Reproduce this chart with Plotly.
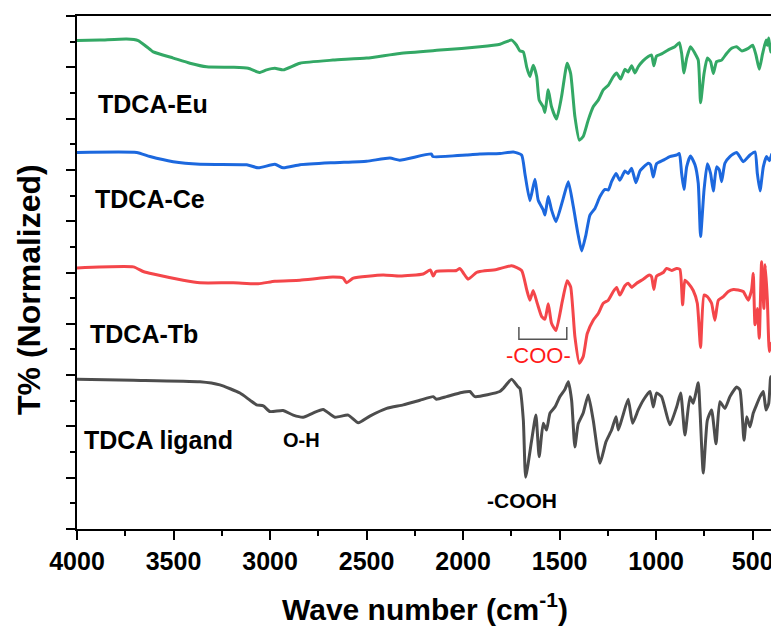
import plotly.graph_objects as go

# ---------------- data ----------------
eu_wn = [4000, 3881, 3743, 3683, 3639, 3605, 3501, 3415, 3329, 3191, 3113, 3056, 3018, 2975, 2932, 2845,
         2674, 2500, 2328, 2100, 1913, 1809, 1749, 1723, 1706, 1688, 1671, 1654, 1637, 1619, 1606, 1585,
         1576, 1559, 1542, 1516, 1490, 1461, 1443, 1421, 1398, 1378, 1352, 1326, 1300, 1274, 1248, 1222,
         1205, 1184, 1162, 1145, 1127, 1110, 1093, 1067, 1041, 1024, 1012, 998, 972, 937, 903, 880, 868,
         856, 842, 822, 799, 782, 770, 752, 735, 718, 704, 687, 661, 635, 609, 583, 557, 523, 500, 483,
         466, 449, 431, 424, 417, 407, 400]
eu_t = [9.52, 9.53, 9.55, 9.52, 9.40, 9.30, 9.18, 9.08, 9.01, 9.00, 8.98, 8.90, 8.95, 8.98, 8.95, 9.08,
        9.14, 9.18, 9.27, 9.34, 9.40, 9.45, 9.53, 9.43, 9.32, 9.30, 9.01, 8.82, 9.04, 8.82, 8.36, 8.23,
        8.12, 8.56, 8.23, 7.99, 8.43, 9.08, 8.88, 8.04, 7.58, 7.65, 7.97, 8.23, 8.36, 8.56, 8.65, 8.82,
        8.89, 8.77, 8.96, 8.91, 9.03, 8.89, 9.01, 9.13, 9.21, 9.24, 9.03, 9.22, 9.26, 9.34, 9.40, 9.48, 9.27,
        8.89, 9.18, 9.40, 9.27, 9.14, 8.31, 8.88, 9.18, 9.11, 8.88, 9.11, 9.14, 9.27, 9.37, 9.40, 9.32, 9.37, 9.43, 9.24,
        8.96, 9.26, 9.53, 9.43, 9.57, 9.30, 9.37]

ce_wn = [4000, 3691, 3622, 3502, 3363, 3121, 3061, 2975, 2932, 2845, 2674, 2500, 2379, 2328, 2164, 2157,
         1982, 1913, 1809, 1740, 1697, 1680, 1654, 1628, 1611, 1585, 1576, 1559, 1542, 1519, 1481, 1455,
         1429, 1404, 1386, 1364, 1343, 1317, 1291, 1265, 1248, 1231, 1208, 1188, 1162, 1145, 1127, 1105,
         1084, 1067, 1041, 1029, 1015, 998, 963, 929, 894, 880, 868, 856, 842, 822, 799, 782, 770, 752,
         735, 718, 704, 687, 673, 661, 644, 618, 583, 549, 514, 488, 476, 462, 445, 428, 414, 400]
ce_t = [7.34, 7.34, 7.26, 7.16, 7.11, 7.10, 7.04, 7.11, 7.04, 7.10, 7.14, 7.17, 7.23, 7.19, 7.31, 7.26,
        7.29, 7.31, 7.32, 7.35, 7.29, 6.93, 6.40, 6.82, 6.41, 6.22, 6.12, 6.48, 6.22, 5.99, 6.45, 6.77,
        6.28, 5.73, 5.42, 5.73, 6.12, 6.25, 6.48, 6.62, 6.61, 6.77, 6.93, 6.80, 6.98, 6.93, 7.03, 6.75,
        6.98, 7.05, 7.13, 7.10, 6.86, 7.12, 7.19, 7.26, 7.29, 7.32, 6.93, 6.62, 7.06, 7.27, 7.10, 6.74, 5.70, 6.61,
        7.12, 6.93, 6.59, 7.06, 7.00, 6.77, 7.13, 7.26, 7.34, 7.16, 7.29, 7.35, 6.93, 6.59, 7.06, 7.26, 7.18, 7.32]

tb_wn = [4000, 3708, 3657, 3605, 3450, 3363, 3191, 3061, 2975, 2845, 2674, 2621, 2604, 2569, 2414, 2328,
         2207, 2170, 2155, 2140, 2034, 2017, 1995, 1974, 1931, 1913, 1827, 1749, 1697, 1671, 1654, 1637,
         1616, 1593, 1576, 1559, 1542, 1519, 1485, 1461, 1443, 1421, 1398, 1378, 1357, 1326, 1300, 1274,
         1248, 1222, 1205, 1188, 1162, 1145, 1127, 1101, 1067, 1036, 1024, 1012, 998, 963, 946, 920, 894,
         877, 863, 851, 834, 808, 787, 770, 752, 735, 713, 696, 678, 652, 626, 600, 575, 549, 523, 506,
         497, 488, 476, 466, 454, 442, 435, 424, 414, 405, 400]
tb_t = [5.09, 5.11, 5.02, 4.97, 4.85, 4.80, 4.80, 4.78, 4.83, 4.85, 4.91, 4.89, 4.80, 4.89, 4.95, 4.93,
        4.97, 5.05, 4.93, 5.02, 5.04, 5.08, 4.97, 4.87, 5.00, 5.02, 5.06, 5.13, 5.04, 4.67, 4.46, 4.65,
        4.40, 4.14, 4.09, 4.39, 4.01, 3.87, 4.46, 4.84, 4.72, 3.75, 3.23, 3.36, 3.81, 4.07, 4.20, 4.40,
        4.46, 4.63, 4.71, 4.56, 4.74, 4.79, 4.71, 4.79, 4.87, 4.95, 4.92, 4.67, 4.93, 5.00, 5.08, 5.04, 5.08,
        5.06, 4.37, 4.85, 4.79, 4.65, 4.40, 3.54, 4.56, 4.53, 4.40, 4.07, 4.46, 4.53, 4.63, 4.67, 4.66, 4.63, 4.46, 4.66,
        4.98, 3.98, 4.30, 3.72, 5.21, 4.30, 5.15, 4.46, 3.46, 3.62, 3.49]

lig_wn = [4000, 3708, 3363, 3260, 3156, 3104, 3070, 3035, 3001, 2933, 2880, 2828, 2778, 2725, 2664, 2595,
          2543, 2483, 2396, 2310, 2224, 2155, 2138, 2086, 2008, 1965, 1939, 1810, 1792, 1749, 1715, 1706,
          1688, 1676, 1645, 1623, 1606, 1585, 1568, 1550, 1524, 1499, 1473, 1455, 1438, 1421, 1404, 1378,
          1352, 1326, 1291, 1260, 1231, 1208, 1196, 1174, 1145, 1122, 1093, 1067, 1032, 1015, 998, 972,
          929, 894, 873, 851, 825, 808, 782, 773, 756, 735, 713, 690, 670, 644, 618, 583, 566, 545, 531,
          514, 497, 480, 462, 445, 431, 417, 407, 400]
lig_t = [2.92, 2.90, 2.87, 2.81, 2.65, 2.51, 2.42, 2.40, 2.29, 2.31, 2.22, 2.18, 2.26, 2.33, 2.18, 2.22,
         2.07, 2.20, 2.35, 2.42, 2.51, 2.58, 2.53, 2.58, 2.66, 2.68, 2.58, 2.68, 2.74, 2.92, 2.77, 2.74,
         2.12, 1.01, 1.73, 2.22, 1.41, 2.06, 1.93, 2.26, 2.38, 2.58, 2.72, 2.87, 2.51, 1.60, 2.05, 2.26,
         2.61, 2.12, 1.28, 1.70, 1.93, 2.19, 1.93, 2.19, 2.53, 2.06, 2.32, 2.51, 2.68, 2.38, 2.65, 2.58,
         2.03, 2.38, 2.65, 1.83, 2.58, 2.45, 2.85, 2.32, 1.09, 2.12, 2.32, 1.66, 2.48, 2.35, 2.58, 2.77, 2.71, 1.73, 2.19,
         1.99, 2.26, 2.42, 2.58, 2.68, 2.32, 2.45, 2.97, 2.77]

series_names = ["TDCA-Eu", "TDCA-Ce", "TDCA-Tb", "TDCA ligand"]
series_colors = ["#33a865", "#1c68de", "#f4464a", "#4d4d4d"]
x_ticks = [4000, 3500, 3000, 2500, 2000, 1500, 1000, 500]

# ---------------- figure ----------------
fig = go.Figure()
for wn, t, name, col in zip([eu_wn, ce_wn, tb_wn, lig_wn], [eu_t, ce_t, tb_t, lig_t],
                            series_names, series_colors):
    fig.add_trace(go.Scatter(x=wn, y=t, mode="lines", name=name,
                             line=dict(color=col, width=3, shape="spline", smoothing=0.5),
                             showlegend=False))

FONT = "Liberation Sans, Arial, sans-serif"

# series labels
label_pos = [(3902, 8.28), (3917, 6.43), (3943, 3.80), (3974, 1.73)]
for name, (lx, ly) in zip(series_names, label_pos):
    fig.add_annotation(x=lx, y=ly, xref="x", yref="y", text=f"<b>{name}</b>", showarrow=False,
                       xanchor="left", yanchor="middle",
                       font=dict(family=FONT, size=25, color="black"))

fig.add_annotation(x=2835, y=1.74, xref="x", yref="y", text="<b>O-H</b>", showarrow=False,
                   xanchor="center", yanchor="middle", font=dict(family=FONT, size=20, color="black"))
fig.add_annotation(x=1696, y=0.56, xref="x", yref="y", text="<b>-COOH</b>", showarrow=False,
                   xanchor="center", yanchor="middle", font=dict(family=FONT, size=21, color="black"))
fig.add_annotation(x=1611, y=3.38, xref="x", yref="y", text="-COO-", showarrow=False,
                   xanchor="center", yanchor="middle", font=dict(family=FONT, size=22, color="#ff1a1a"))

# bracket under COO- bands
fig.add_shape(type="path", xref="x", yref="y",
              path="M 1711 3.94 L 1711 3.70 L 1463 3.70 L 1463 3.94",
              line=dict(color="#555555", width=1.5))

# axis titles as annotations
fig.add_annotation(xref="paper", yref="paper", x=0, y=0.466, xshift=-48, text="<b>T% (Normalized)</b>",
                   textangle=-90, showarrow=False, xanchor="center", yanchor="middle",
                   font=dict(family=FONT, size=32, color="black"))
fig.add_annotation(xref="paper", yref="paper", x=0.5, y=0, yshift=-78,
                   text="<b>Wave number (cm<sup>-1</sup>)</b>", showarrow=False,
                   xanchor="center", yanchor="middle", font=dict(family=FONT, size=30, color="black"))

# page body has an 8px margin, so the figure is sized to fill the rest of the window
fig.update_layout(
    width=771, height=620,
    margin=dict(l=69, r=7, t=8, b=99, autoexpand=False),
    paper_bgcolor="white", plot_bgcolor="white",
    font=dict(family=FONT, color="black"),
)
fig.update_xaxes(range=[4000, 400], tickvals=x_ticks, ticktext=[str(v) for v in x_ticks],
                 ticks="outside", ticklen=9, tickwidth=2, tickcolor="black",
                 minor=dict(dtick=250, tick0=0, ticks="outside", ticklen=5, tickwidth=2, tickcolor="black"),
                 showline=True, linecolor="black", linewidth=2, mirror=True,
                 showgrid=False, zeroline=False, automargin=False,
                 tickfont=dict(family=FONT, size=25, color="black", weight="bold"))
fig.update_yaxes(range=[0, 10], dtick=1, tick0=0, showticklabels=False,
                 ticks="outside", ticklen=9, tickwidth=2, tickcolor="black",
                 minor=dict(dtick=0.5, tick0=0, ticks="outside", ticklen=5, tickwidth=2, tickcolor="black"),
                 showline=True, linecolor="black", linewidth=2, mirror=True,
                 showgrid=False, zeroline=False, automargin=False)

fig.write_html("out.html")
